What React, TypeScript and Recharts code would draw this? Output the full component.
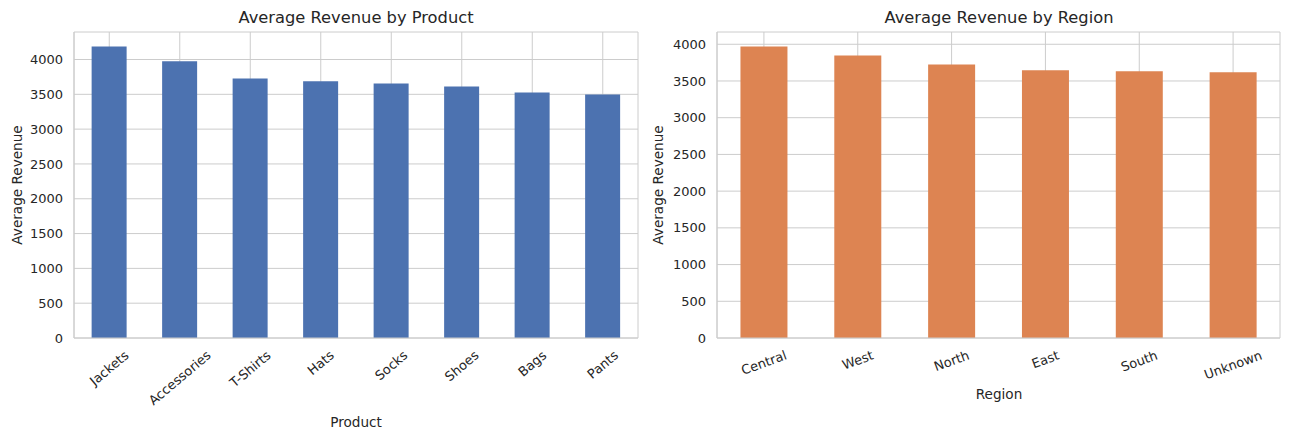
import { BarChart, Bar, XAxis, YAxis, CartesianGrid } from 'recharts';

const products = ['Jackets', 'Accessories', 'T-Shirts', 'Hats', 'Socks', 'Shoes', 'Bags', 'Pants'];
const productRevenue = [4185, 3976, 3727, 3688, 3655, 3612, 3525, 3496];

const regions = ['Central', 'West', 'North', 'East', 'South', 'Unknown'];
const regionRevenue = [3968, 3846, 3723, 3645, 3632, 3620];

const yTicks = [0, 500, 1000, 1500, 2000, 2500, 3000, 3500, 4000];

const TEXT = '#262626';
const GRID = '#cccccc';
const FONT = '"DejaVu Sans", sans-serif';

let ctx: CanvasRenderingContext2D | null = null;
function measure(s: string, size: number) {
  if (!ctx) ctx = document.createElement('canvas').getContext('2d');
  if (!ctx) return s.length * size * 0.6;
  ctx.font = `${size}px "DejaVu Sans"`;
  return ctx.measureText(s).width;
}

// matplotlib-style rotated label: centred under the tick, bbox top sits just below the axis
function RotTick(props: any) {
  const { x, y, payload, angle } = props;
  const fs = 13;
  const w = measure(payload.value, fs);
  const h = fs * 1.17;
  const r = (angle * Math.PI) / 180;
  const H = w * Math.sin(r) + h * Math.cos(r);
  const cy = y + 9.5 + H / 2;
  return (
    <text
      x={x}
      y={cy}
      transform={`rotate(${-angle}, ${x}, ${cy})`}
      textAnchor="middle"
      dominantBaseline="central"
      fontSize={fs}
      fill={TEXT}
      fontFamily={FONT}
    >
      {payload.value}
    </text>
  );
}

function Panel({ names, values, color, angle, width, yWidth, right, yMax }: any) {
  const data = names.map((n: string, i: number) => ({ name: n, value: values[i] }));
  return (
    <BarChart
      width={width}
      height={440}
      data={data}
      margin={{ top: 32, right, bottom: 0, left: 0 }}
      barCategoryGap="25%"
    >
      <CartesianGrid stroke={GRID} strokeWidth={1} />
      <XAxis
        dataKey="name"
        height={102}
        tickLine={false}
        tickSize={0}
        tickMargin={0}
        axisLine={{ stroke: GRID }}
        interval={0}
        tick={<RotTick angle={angle} />}
      />
      <XAxis xAxisId="top" dataKey="name" orientation="top" height={0} tick={false} tickLine={false} axisLine={{ stroke: GRID }} />
      <YAxis
        domain={[0, yMax]}
        ticks={yTicks}
        width={yWidth}
        tickLine={false}
        tickSize={0}
        tickMargin={11}
        axisLine={{ stroke: GRID }}
        tick={{ fill: TEXT, fontSize: 13, fontFamily: FONT }}
        allowDataOverflow
      />
      <YAxis yAxisId="right" orientation="right" width={0} domain={[0, yMax]} tick={false} tickLine={false} axisLine={{ stroke: GRID }} />
      <Bar dataKey="value" fill={color} isAnimationActive={false} />
    </BarChart>
  );
}

const abs = (extra: any) => ({ position: 'absolute' as const, color: TEXT, fontFamily: FONT, whiteSpace: 'nowrap' as const, ...extra });

export default function App() {
  return (
    <div style={{ position: 'absolute', left: 0, top: 0, width: 1289, height: 440, background: '#fff', overflow: 'hidden', fontFamily: FONT }}>
      <div style={{ position: 'absolute', left: 0, top: 0 }}>
        <Panel names={products} values={productRevenue} color="#4C72B0" angle={40} width={646} yWidth={74} right={8} yMax={4395} />
      </div>
      <div style={{ position: 'absolute', left: 640, top: 0 }}>
        <Panel names={regions} values={regionRevenue} color="#DD8452" angle={20} width={649} yWidth={77} right={9} yMax={4167} />
      </div>

      <div style={abs({ left: 356, top: 17, fontSize: 16.3, transform: 'translate(-50%, -50%)' })}>Average Revenue by Product</div>
      <div style={abs({ left: 999, top: 17, fontSize: 16.3, transform: 'translate(-50%, -50%)' })}>Average Revenue by Region</div>

      <div style={abs({ left: 17, top: 185, fontSize: 13.6, transform: 'translate(-50%, -50%) rotate(-90deg)' })}>Average Revenue</div>
      <div style={abs({ left: 658, top: 185, fontSize: 13.6, transform: 'translate(-50%, -50%) rotate(-90deg)' })}>Average Revenue</div>

      <div style={abs({ left: 356, top: 422, fontSize: 13.6, transform: 'translate(-50%, -50%)' })}>Product</div>
      <div style={abs({ left: 999, top: 394, fontSize: 13.6, transform: 'translate(-50%, -50%)' })}>Region</div>
    </div>
  );
}
